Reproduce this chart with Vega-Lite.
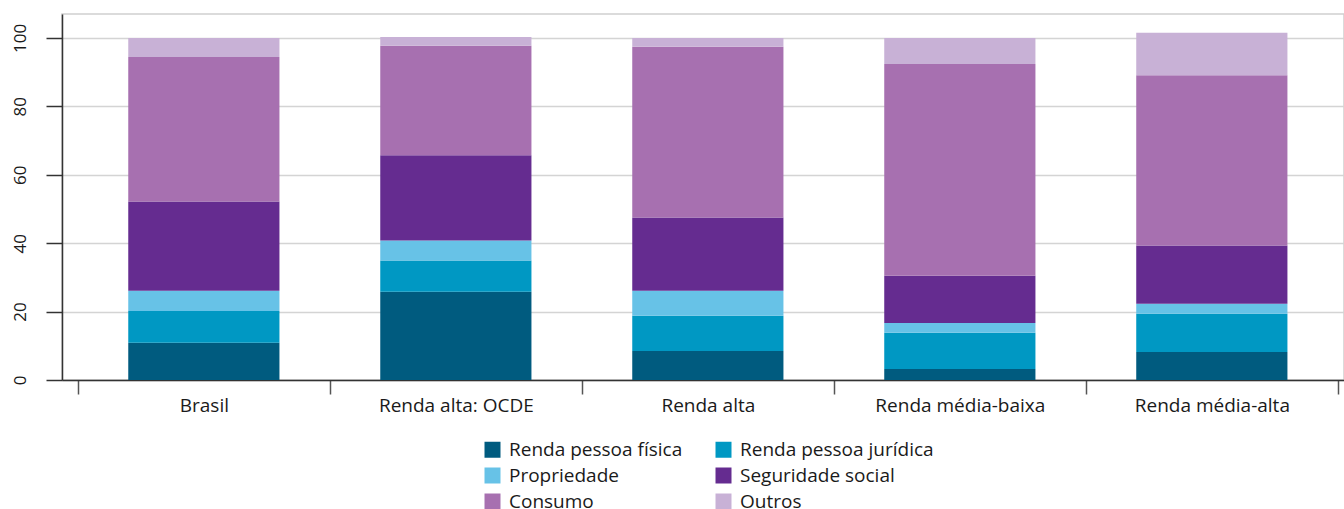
{
  "$schema": "https://vega.github.io/schema/vega-lite/v6.json",
  "autosize": {"type": "none"},
  "padding": {"left": 62, "top": 14, "right": 0, "bottom": 129},
  "width": 1282,
  "height": 366,
  "background": "white",
  "config": {
    "font": "Open Sans",
    "view": {"stroke": "#d0d0d0", "strokeWidth": 1.5}
  },
  "data": {
    "values": [
      {"grupo": "Brasil", "tipo": "Renda pessoa física", "ordem": 1, "valor": 10.9},
      {"grupo": "Brasil", "tipo": "Renda pessoa jurídica", "ordem": 2, "valor": 9.3},
      {"grupo": "Brasil", "tipo": "Propriedade", "ordem": 3, "valor": 5.9},
      {"grupo": "Brasil", "tipo": "Seguridade social", "ordem": 4, "valor": 26.1},
      {"grupo": "Brasil", "tipo": "Consumo", "ordem": 5, "valor": 42.2},
      {"grupo": "Brasil", "tipo": "Outros", "ordem": 6, "valor": 5.6},
      {"grupo": "Renda alta: OCDE", "tipo": "Renda pessoa física", "ordem": 1, "valor": 25.8},
      {"grupo": "Renda alta: OCDE", "tipo": "Renda pessoa jurídica", "ordem": 2, "valor": 9.1},
      {"grupo": "Renda alta: OCDE", "tipo": "Propriedade", "ordem": 3, "valor": 5.9},
      {"grupo": "Renda alta: OCDE", "tipo": "Seguridade social", "ordem": 4, "valor": 24.9},
      {"grupo": "Renda alta: OCDE", "tipo": "Consumo", "ordem": 5, "valor": 32.0},
      {"grupo": "Renda alta: OCDE", "tipo": "Outros", "ordem": 6, "valor": 2.6},
      {"grupo": "Renda alta", "tipo": "Renda pessoa física", "ordem": 1, "valor": 8.5},
      {"grupo": "Renda alta", "tipo": "Renda pessoa jurídica", "ordem": 2, "valor": 10.3},
      {"grupo": "Renda alta", "tipo": "Propriedade", "ordem": 3, "valor": 7.3},
      {"grupo": "Renda alta", "tipo": "Seguridade social", "ordem": 4, "valor": 21.4},
      {"grupo": "Renda alta", "tipo": "Consumo", "ordem": 5, "valor": 49.9},
      {"grupo": "Renda alta", "tipo": "Outros", "ordem": 6, "valor": 2.6},
      {"grupo": "Renda média-baixa", "tipo": "Renda pessoa física", "ordem": 1, "valor": 3.2},
      {"grupo": "Renda média-baixa", "tipo": "Renda pessoa jurídica", "ordem": 2, "valor": 10.6},
      {"grupo": "Renda média-baixa", "tipo": "Propriedade", "ordem": 3, "valor": 2.9},
      {"grupo": "Renda média-baixa", "tipo": "Seguridade social", "ordem": 4, "valor": 13.8},
      {"grupo": "Renda média-baixa", "tipo": "Consumo", "ordem": 5, "valor": 61.9},
      {"grupo": "Renda média-baixa", "tipo": "Outros", "ordem": 6, "valor": 7.6},
      {"grupo": "Renda média-alta", "tipo": "Renda pessoa física", "ordem": 1, "valor": 8.2},
      {"grupo": "Renda média-alta", "tipo": "Renda pessoa jurídica", "ordem": 2, "valor": 11.2},
      {"grupo": "Renda média-alta", "tipo": "Propriedade", "ordem": 3, "valor": 2.9},
      {"grupo": "Renda média-alta", "tipo": "Seguridade social", "ordem": 4, "valor": 17.0},
      {"grupo": "Renda média-alta", "tipo": "Consumo", "ordem": 5, "valor": 49.8},
      {"grupo": "Renda média-alta", "tipo": "Outros", "ordem": 6, "valor": 12.4}
    ]
  },
  "mark": {"type": "bar", "width": {"band": 0.6}},
  "encoding": {
    "x": {
      "field": "grupo",
      "type": "nominal",
      "sort": ["Brasil", "Renda alta: OCDE", "Renda alta", "Renda média-baixa", "Renda média-alta"],
      "scale": {"paddingInner": 0, "paddingOuter": 0.0437, "align": 0.72},
      "axis": {
        "title": null,
        "labelAngle": 0,
        "labelFontSize": 19,
        "labelColor": "#1a1a1a",
        "labelPadding": 2,
        "tickBand": "extent",
        "tickSize": 14,
        "tickColor": "#555555",
        "tickWidth": 1.5,
        "domainColor": "#333333",
        "domainWidth": 1.5,
        "grid": false
      }
    },
    "y": {
      "field": "valor",
      "type": "quantitative",
      "stack": "zero",
      "scale": {"domain": [0, 107], "nice": false},
      "axis": {
        "title": null,
        "values": [0, 20, 40, 60, 80, 100],
        "labelAngle": -90,
        "labelAlign": "center",
        "labelBaseline": "bottom",
        "labelFontSize": 17,
        "labelColor": "#1a1a1a",
        "labelPadding": 17,
        "tickSize": 16,
        "tickColor": "#333333",
        "tickWidth": 1.5,
        "domainColor": "#333333",
        "domainWidth": 1.5,
        "gridColor": "#d4d4d4",
        "gridWidth": 1.5
      }
    },
    "color": {
      "field": "tipo",
      "type": "nominal",
      "scale": {
        "domain": ["Renda pessoa física", "Renda pessoa jurídica", "Propriedade", "Seguridade social", "Consumo", "Outros"],
        "range": ["#005b7f", "#0098c3", "#67c2e7", "#652c90", "#a770b0", "#c8b1d6"]
      },
      "legend": {
        "title": null,
        "orient": "none",
        "legendX": 421,
        "legendY": 426,
        "direction": "horizontal",
        "columns": 2,
        "columnPadding": 31,
        "rowPadding": 6,
        "symbolType": "square",
        "symbolSize": 256,
        "symbolStrokeWidth": 0,
        "symbolOpacity": 1,
        "labelFontSize": 19,
        "labelColor": "#1a1a1a",
        "labelOffset": 7,
        "labelLimit": 300
      }
    },
    "order": {"field": "ordem", "type": "quantitative"}
  }
}
